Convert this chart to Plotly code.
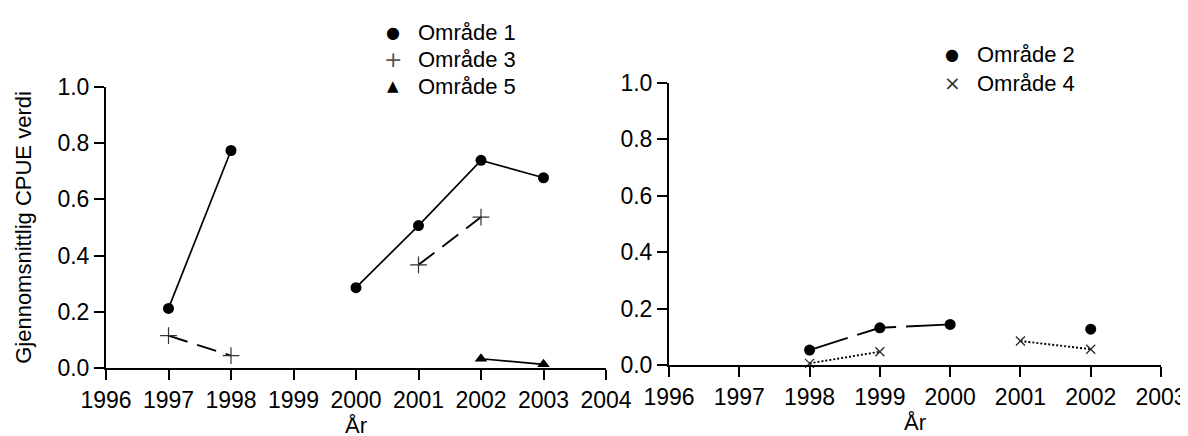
import plotly.graph_objects as go

# ---- data ----
years_left = [1997, 1998, 1999, 2000, 2001, 2002, 2003]
omr1 = [0.212, 0.774, None, 0.286, 0.507, 0.739, 0.677]
omr3 = [0.115, 0.044, None, None, 0.367, 0.537, None]
omr5 = [None, None, None, None, None, 0.033, 0.013]

years_right = [1998, 1999, 2000, 2001, 2002]
omr2 = [0.053, 0.132, 0.144, None, 0.127]
omr4 = [0.006, 0.047, None, 0.085, 0.056]

left_ticks = [1996, 1997, 1998, 1999, 2000, 2001, 2002, 2003, 2004]
right_ticks = [1996, 1997, 1998, 1999, 2000, 2001, 2002, 2003]
y_ticks = [0.0, 0.2, 0.4, 0.6, 0.8, 1.0]

names_left = ["Område 1", "Område 3", "Område 5"]
symbols_left = ["●", "+", "▲"]
names_right = ["Område 2", "Område 4"]
symbols_right = ["●", "×"]

FONT = "Liberation Sans, Arial, sans-serif"
FS_TICK = 23
FS = 22
W, H = 1188, 436

fig = go.Figure()

circle = dict(symbol="circle", size=11, color="black")
cross = dict(symbol="cross-thin", size=12, color="#333", line=dict(width=1.2, color="#333"))
tri = dict(symbol="triangle-up", size=11, color="black")
xmark = dict(symbol="x-thin", size=9, color="#222", line=dict(width=1.2, color="#222"))

# left panel
fig.add_trace(go.Scatter(x=years_left, y=omr1, mode="lines+markers", marker=circle, name=names_left[0],
                         line=dict(color="black", width=1.7), showlegend=False,
                         cliponaxis=False, xaxis="x", yaxis="y"))
fig.add_trace(go.Scatter(x=years_left, y=omr3, mode="lines+markers", marker=cross, name=names_left[1],
                         line=dict(color="black", width=1.9, dash="20px,10px"), showlegend=False,
                         cliponaxis=False, xaxis="x", yaxis="y"))
fig.add_trace(go.Scatter(x=years_left, y=omr5, mode="lines+markers", marker=tri, name=names_left[2],
                         line=dict(color="black", width=1.7), showlegend=False,
                         cliponaxis=False, xaxis="x", yaxis="y"))
# right panel
fig.add_trace(go.Scatter(x=years_right, y=omr2, mode="lines+markers", marker=circle, name=names_right[0],
                         line=dict(color="black", width=1.9, dash="40px,10px"), showlegend=False,
                         cliponaxis=False, xaxis="x2", yaxis="y2"))
fig.add_trace(go.Scatter(x=years_right, y=omr4, mode="lines+markers", marker=xmark, name=names_right[1],
                         line=dict(color="black", width=1.9, dash="2px,2px"), showlegend=False,
                         cliponaxis=False, xaxis="x2", yaxis="y2"))

axis_common = dict(showline=True, linecolor="black", linewidth=2, ticks="outside",
                   ticklen=10, tickwidth=2, tickcolor="black", showgrid=False,
                   zeroline=False, automargin=False,
                   tickfont=dict(family=FONT, size=FS_TICK, color="black"))

# legends drawn as text (symbol + label)
annotations = []
sym_sizes = {"●": 16, "+": 22, "▲": 15, "×": 20}
sym_colors = {"●": "black", "+": "#555", "▲": "black", "×": "#333"}
left_rows = [24, 51, 78]
for nm, sy, yy in zip(names_left, symbols_left, left_rows):
    annotations.append(dict(x=385 / W, y=1 - yy / H, xref="paper", yref="paper", text=sy,
                            showarrow=False, xanchor="center", yanchor="middle",
                            font=dict(family="DejaVu Sans", size=sym_sizes[sy], color=sym_colors[sy])))
    annotations.append(dict(x=408 / W, y=1 - yy / H, xref="paper", yref="paper", text=nm,
                            showarrow=False, xanchor="left", yanchor="middle",
                            font=dict(family=FONT, size=FS, color="black")))
right_rows = [47, 75]
for nm, sy, yy in zip(names_right, symbols_right, right_rows):
    annotations.append(dict(x=944 / W, y=1 - yy / H, xref="paper", yref="paper", text=sy,
                            showarrow=False, xanchor="center", yanchor="middle",
                            font=dict(family="DejaVu Sans", size=sym_sizes[sy], color=sym_colors[sy])))
    annotations.append(dict(x=967 / W, y=1 - yy / H, xref="paper", yref="paper", text=nm,
                            showarrow=False, xanchor="left", yanchor="middle",
                            font=dict(family=FONT, size=FS, color="black")))

fig.update_layout(
    width=W, height=H,
    margin=dict(l=0, r=0, t=0, b=0),
    paper_bgcolor="white", plot_bgcolor="white",
    font=dict(family=FONT, size=FS, color="black"),
    showlegend=False,
    xaxis=dict(domain=[98 / W, 598 / W], range=[1996, 2004], tickvals=left_ticks,
               anchor="y",
               title=dict(text="År", standoff=0, font=dict(family=FONT, size=FS)),
               **axis_common),
    yaxis=dict(domain=[76 / H, 357 / H], range=[0, 1], tickvals=y_ticks, tickformat=".1f",
               anchor="x",
               title=dict(text="Gjennomsnittlig CPUE verdi", standoff=20,
                          font=dict(family=FONT, size=FS)),
               **axis_common),
    xaxis2=dict(domain=[661 / W, 1153 / W], range=[1996, 2003], tickvals=right_ticks,
                anchor="y2",
                title=dict(text="År", standoff=0, font=dict(family=FONT, size=FS)),
                **axis_common),
    yaxis2=dict(domain=[79 / H, 361 / H], range=[0, 1], tickvals=y_ticks, tickformat=".1f",
                anchor="x2", **axis_common),
    annotations=annotations,
)

fig.write_html("out.html")
